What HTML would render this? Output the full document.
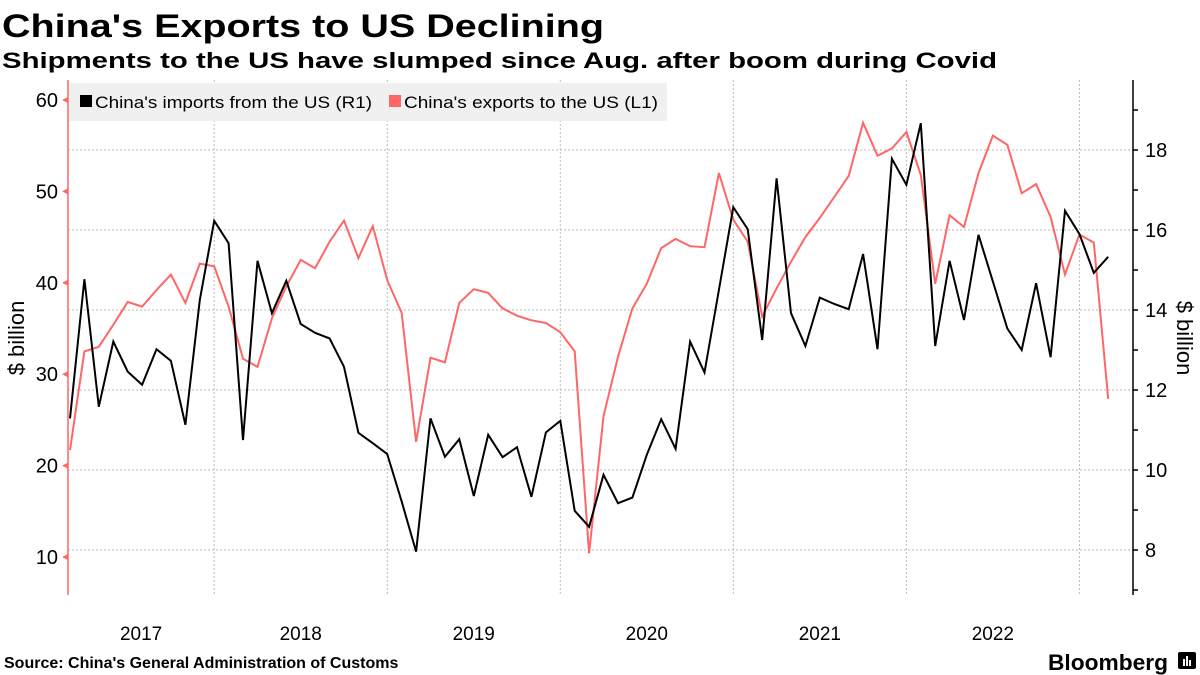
<!DOCTYPE html>
<html><head><meta charset="utf-8"><style>
html,body{margin:0;padding:0;background:#fff;}
svg{display:block;font-family:"Liberation Sans",sans-serif;}
</style></head><body>
<svg id="chart" width="1200" height="675" viewBox="0 0 1200 675" xmlns="http://www.w3.org/2000/svg">
<text x="2" y="37" font-size="32" font-weight="bold" textLength="602" lengthAdjust="spacingAndGlyphs">China's Exports to US Declining</text>
<text x="2" y="68" font-size="22" font-weight="bold" textLength="995" lengthAdjust="spacingAndGlyphs">Shipments to the US have slumped since Aug. after boom during Covid</text>
<g id="grid"></g>
<rect x="69" y="83" width="598" height="38" fill="#f0f0f0"/>
<g>
<rect x="80" y="95" width="12" height="12" fill="#000"/>
<text x="95" y="108" font-size="17" textLength="277" lengthAdjust="spacingAndGlyphs">China's imports from the US (R1)</text>
</g>
<g>
<rect x="389" y="95" width="12" height="12" fill="#f66"/>
<text x="404" y="108" font-size="17" textLength="254" lengthAdjust="spacingAndGlyphs">China's exports to the US (L1)</text>
</g>
<g id="axes"></g>
<g id="series"></g>
<text transform="translate(24,338) rotate(-90)" text-anchor="middle" font-size="22">$ billion</text>
<text transform="translate(1177,338) rotate(90)" text-anchor="middle" font-size="22">$ billion</text>
<text x="4" y="668" font-size="16" font-weight="bold">Source: China's General Administration of Customs</text>
<text x="1048" y="670" font-size="22" font-weight="bold" textLength="120" lengthAdjust="spacingAndGlyphs">Bloomberg</text>
<g>
<rect x="1178" y="652" width="18" height="17" rx="2" fill="#000"/>
<rect x="1183" y="659" width="2" height="7" fill="#fff"/><rect x="1186" y="656" width="2" height="10" fill="#fff"/><rect x="1189" y="660" width="2" height="6" fill="#fff"/>
</g>
</svg>
<script>
const years = ["2017","2018","2019","2020","2021","2022"];
const leftTicks = [10,20,30,40,50,60];
const rightTicks = [8,10,12,14,16,18];
const exportsUS = [21.7,32.5,33.0,35.4,37.9,37.4,39.2,40.9,37.8,42.1,41.8,37.4,31.7,30.8,36.1,39.6,42.5,41.6,44.5,46.8,42.7,46.2,40.3,36.7,22.6,31.8,31.3,37.8,39.3,38.9,37.2,36.4,35.9,35.6,34.6,32.5,10.4,25.4,31.9,37.2,39.9,43.8,44.8,44.0,43.9,52.0,46.9,44.5,36.3,39.4,42.3,45.0,47.1,49.4,51.7,57.5,53.9,54.7,56.5,51.8,39.9,47.4,46.1,52.0,56.1,55.1,49.8,50.8,47.2,40.9,45.3,44.4,27.3];
const importsUS = [11.29,14.77,11.58,13.21,12.46,12.13,13.02,12.73,11.13,14.25,16.23,15.67,10.75,15.23,13.92,14.73,13.65,13.43,13.29,12.58,10.93,10.67,10.4,9.21,7.96,11.29,10.33,10.77,9.35,10.88,10.32,10.57,9.33,10.94,11.23,8.98,8.58,9.88,9.17,9.31,10.38,11.27,10.53,13.21,12.44,14.5,16.57,16.02,13.25,17.29,13.92,13.1,14.31,14.15,14.02,15.4,13.02,17.78,17.13,18.67,13.1,15.23,13.75,15.88,14.71,13.54,13.0,14.67,12.82,16.48,15.9,14.93,15.33];

const NS="http://www.w3.org/2000/svg";
const X0=70, DX=14.42, L=68, R=1133, T=80, B=595;
const xAt = i => X0 + i*DX;
const yL = v => 557 - (v-10)*9.14;
const yR = v => 550 - (v-8)*40;
function mk(tag, attrs, parent){const e=document.createElementNS(NS,tag);for(const k in attrs)e.setAttribute(k,attrs[k]);parent.appendChild(e);return e;}
const grid=document.getElementById('grid'), axes=document.getElementById('axes'), series=document.getElementById('series');
const firstJanIdx = 10;
for(let k=0;k<6;k++){
  const x = xAt(firstJanIdx + 12*k);
  const g = mk('line',{x1:x,x2:x,y1:T,y2:B,stroke:'#bbb','stroke-dasharray':'2,2','stroke-width':1},grid);
  
  
}
rightTicks.forEach(v=>{
  const y=yR(v);
  const g=mk('line',{x1:L,x2:R,y1:y,y2:y,stroke:'#bbb','stroke-dasharray':'2,2','stroke-width':1},grid);
  
  
});
years.forEach((yr,k)=>{
  const a = Math.max(L, xAt(firstJanIdx + 12*(k-1)));
  const b = xAt(firstJanIdx + 12*k);
  const t=mk('text',{x:(a+b)/2,y:640,'text-anchor':'middle','font-size':19},axes);
  t.textContent=yr;
  
  
});
let ax=mk('line',{x1:L,x2:L,y1:T,y2:B,stroke:'#f66','stroke-width':1.5},axes);


leftTicks.forEach(v=>{
  const y=yL(v);
  const p=mk('path',{d:`M${L} ${y-3} L${L-6} ${y} L${L} ${y+3} Z`,fill:'#f66'},axes);
  
  
  const t=mk('text',{x:58,y:y+7,'text-anchor':'end','font-size':20},axes);
  t.textContent=v;
  
  
});
ax=mk('line',{x1:R,x2:R,y1:T,y2:B,stroke:'#000','stroke-width':1.5},axes);


for(let v=7;v<=19;v++){
  const y=yR(v);
  const p=mk('line',{x1:R,x2:R+5,y1:y,y2:y,stroke:'#000','stroke-width':1.5},axes);
  
  
}
rightTicks.forEach(v=>{
  const y=yR(v);
  const t=mk('text',{x:1145,y:y+7,'font-size':20},axes);
  t.textContent=v;
  
  
});
let ptsE=exportsUS.map((v,i)=>xAt(i).toFixed(1)+','+yL(v).toFixed(1)).join(' ');
let le=mk('polyline',{points:ptsE,fill:'none',stroke:'#f66','stroke-width':2,'stroke-linejoin':'miter'},series);


let ptsI=importsUS.map((v,i)=>xAt(i).toFixed(1)+','+yR(v).toFixed(1)).join(' ');
let li=mk('polyline',{points:ptsI,fill:'none',stroke:'#000','stroke-width':2,'stroke-linejoin':'miter'},series);


</script>
</body></html>
